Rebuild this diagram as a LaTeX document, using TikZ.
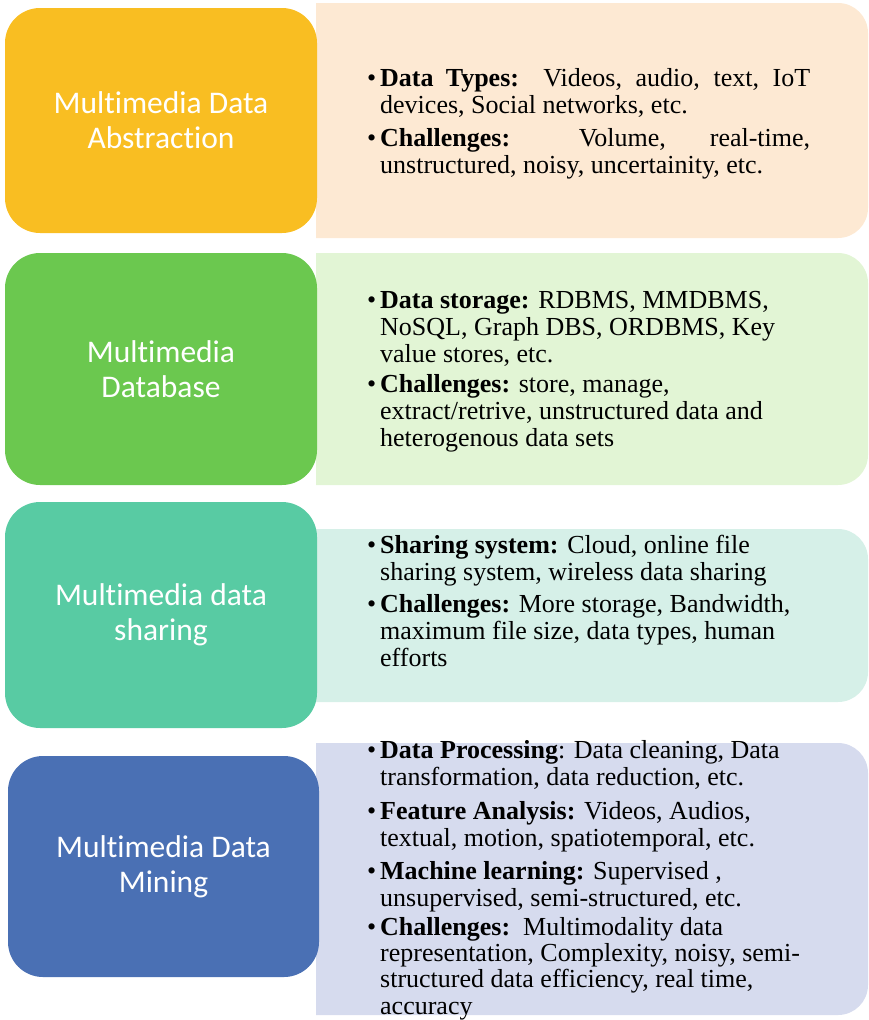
\documentclass[tikz,border=0pt]{standalone}
\usepackage{fontspec}
\setmainfont{Liberation Serif}
\newfontfamily\labelfont[Ligatures={NoCommon,NoContextual}]{Carlito}
\definecolor{c1}{HTML}{F9BE22}
\definecolor{c1r}{HTML}{FDE9D3}
\definecolor{c2}{HTML}{6BC84F}
\definecolor{c2r}{HTML}{E2F5D5}
\definecolor{c3}{HTML}{58CBA3}
\definecolor{c3r}{HTML}{D6F0E8}
\definecolor{c4}{HTML}{4A70B4}
\definecolor{c4r}{HTML}{D6DBEE}
\newcommand{\itmR}[2]{\parbox[t]{#1}{\raggedright\leavevmode\llap{\textbullet\hspace{4pt}}#2}}
\newcommand{\itmJ}[2]{\parbox[t]{#1}{\leavevmode\llap{\textbullet\hspace{4pt}}#2}}
\begin{document}
\begin{tikzpicture}[x=1pt,y=-1pt,
  lbox/.style={rectangle, rounded corners=35pt, inner sep=0pt, text=white, align=center,
    font=\labelfont\fontsize{31.5}{35}\selectfont},
  itemtext/.style={anchor=base west, inner sep=0pt, font=\fontsize{26}{27}\selectfont}]
\useasboundingbox (0,0) rectangle (868,1020);
% right panels
\fill[c1r] (316,3) -- (838,3) arc[start angle=-90,end angle=0,radius=30] -- (868,208) arc[start angle=0,end angle=90,radius=30] -- (316,238) -- cycle;
\fill[c2r] (316,253) -- (838,253) arc[start angle=-90,end angle=0,radius=30] -- (868,455) arc[start angle=0,end angle=90,radius=30] -- (316,485) -- cycle;
\fill[c3r] (316,529) -- (838,529) arc[start angle=-90,end angle=0,radius=30] -- (868,672) arc[start angle=0,end angle=90,radius=30] -- (316,702) -- cycle;
\fill[c4r] (316,743) -- (838,743) arc[start angle=-90,end angle=0,radius=30] -- (868,985) arc[start angle=0,end angle=90,radius=30] -- (316,1015) -- cycle;
% left boxes
\node[lbox, fill=c1, minimum width=312pt, minimum height=225pt] (abs) at (161,120.5) {Multimedia Data\\Abstraction};
\node[lbox, fill=c2, minimum width=312pt, minimum height=232pt] (db) at (161,369) {Multimedia\\Database};
\node[lbox, fill=c3, minimum width=312pt, minimum height=226pt] (share) at (161,615) {Multimedia data\\sharing};
\node[lbox, fill=c4, minimum width=311pt, minimum height=221pt] (mine) at (163.5,866.5) {Multimedia Data\\Mining};
% panel 1
\node[itemtext] (t1a) at (380,86) {\itmJ{430pt}{\textbf{Data Types:}\ \ Videos, audio, text, IoT\linebreak devices, Social networks, etc.}};
\node[itemtext] (t1b) at (380,146) {\itmJ{430pt}{\textbf{Challenges:} Volume, real-time,\linebreak unstructured, noisy, uncertainity, etc.}};
% panel 2
\node[itemtext] (t2a) at (380,308) {\itmR{470pt}{\textbf{Data storage:} RDBMS, MMDBMS,\\NoSQL, Graph DBS, ORDBMS, Key\\value stores, etc.}};
\node[itemtext] (t2b) at (380,392) {\itmR{470pt}{\textbf{Challenges:} store, manage,\\extract/retrive, unstructured data and\\heterogenous data sets}};
% panel 3
\node[itemtext] (t3a) at (380,553) {\itmR{470pt}{\textbf{Sharing system:} Cloud, online file\\sharing system, wireless data sharing}};
\node[itemtext] (t3b) at (380,612) {\itmR{470pt}{\textbf{Challenges:} More storage, Bandwidth,\\maximum file size, data types, human\\efforts}};
% panel 4
\node[itemtext] (t4a) at (380,758) {\itmR{470pt}{\textbf{Data Processing}: Data cleaning, Data\\transformation, data reduction, etc.}};
\node[itemtext] (t4b) at (380,819) {\itmR{470pt}{\textbf{Feature Analysis:} Videos, Audios,\\textual, motion, spatiotemporal, etc.}};
\node[itemtext] (t4c) at (380,879) {\itmR{470pt}{\textbf{Machine learning:} Supervised ,\\unsupervised, semi-structured, etc.}};
\node[itemtext, font=\fontsize{26}{26.4}\selectfont] (t4d) at (380,935) {\itmR{470pt}{\textbf{Challenges:}\ \ Multimodality data\\representation, Complexity, noisy, semi-\\structured data efficiency, real time,\\accuracy}};
\end{tikzpicture}
\end{document}
